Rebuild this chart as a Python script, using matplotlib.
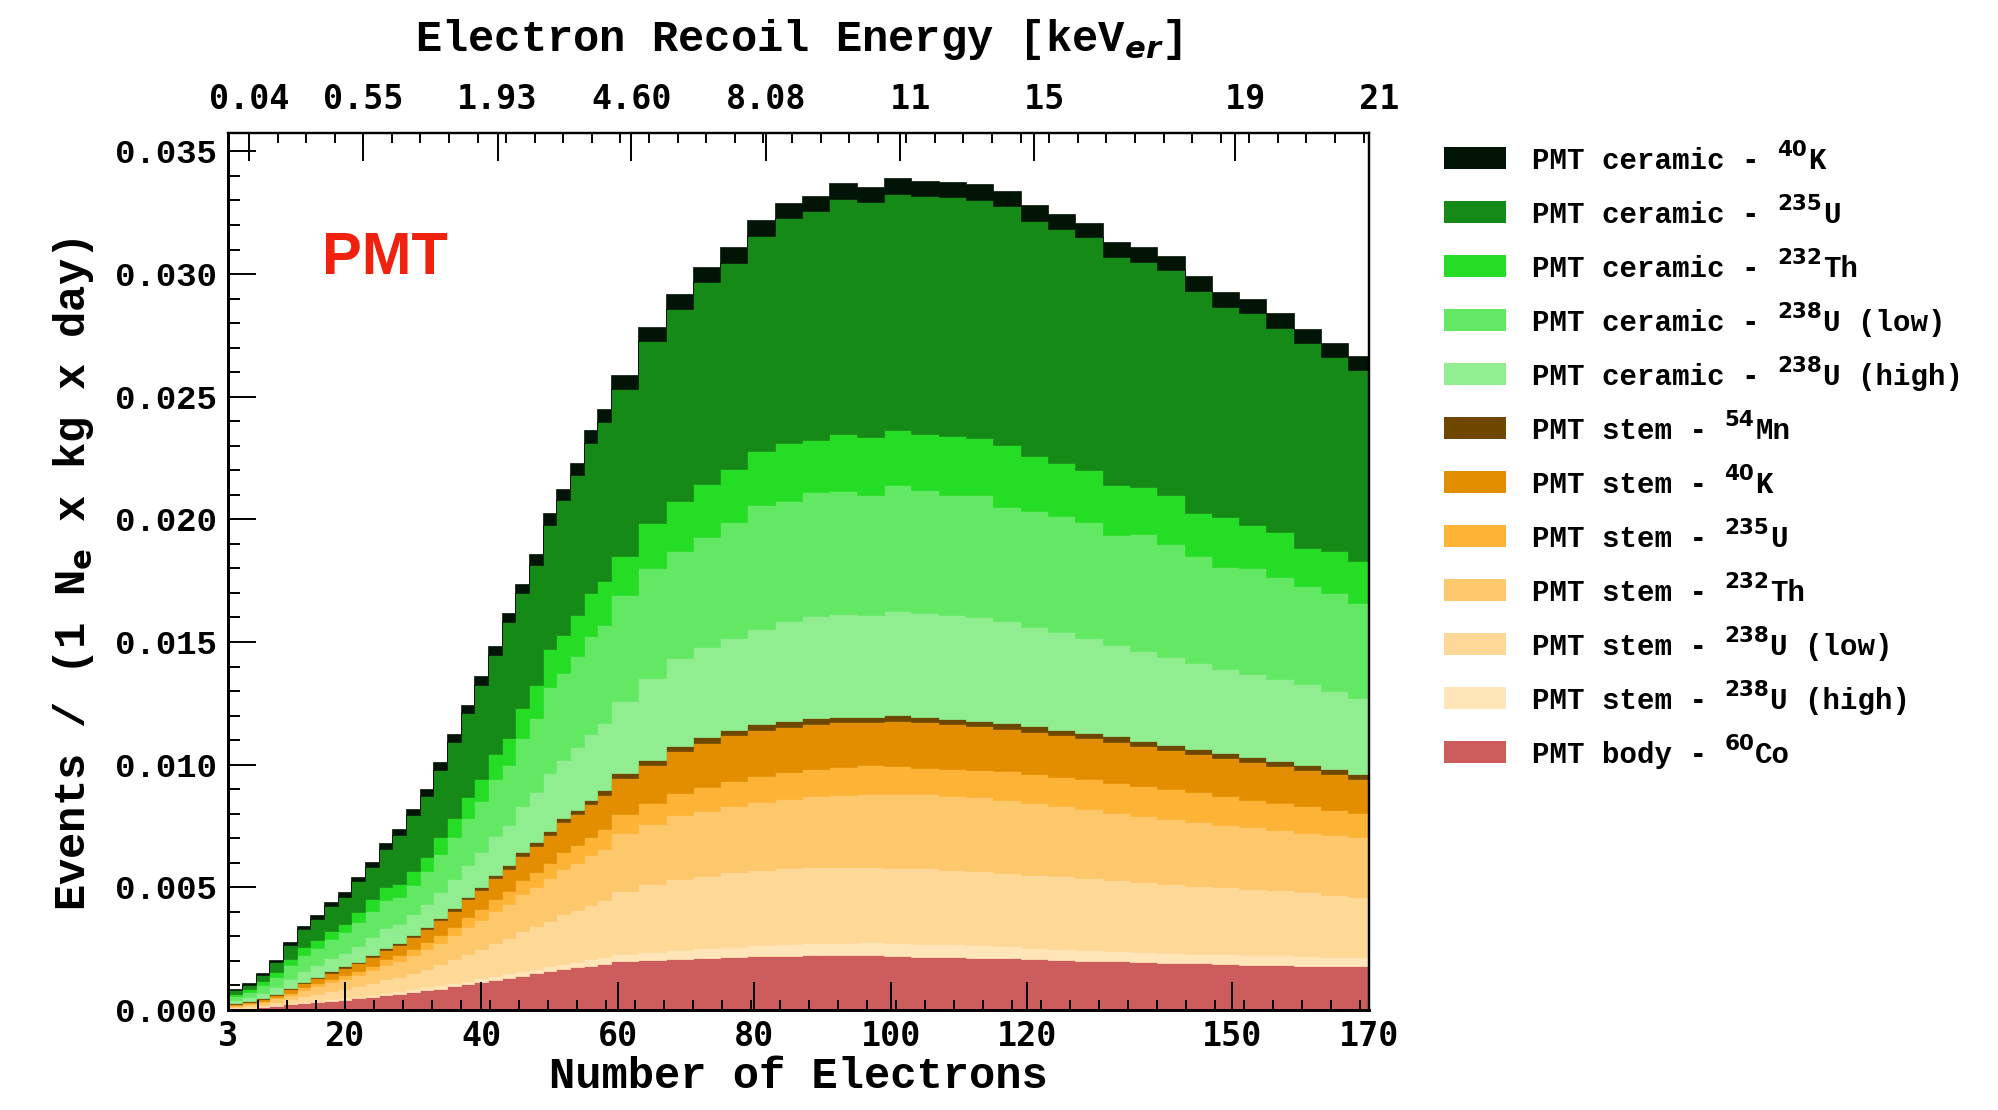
import numpy as np
import matplotlib
matplotlib.use("Agg")
import matplotlib.pyplot as plt
from matplotlib.patches import Rectangle

plt.rcParams['font.family'] = ['Liberation Mono', 'DejaVu Sans Mono']
plt.rcParams['font.weight'] = 'bold'
plt.rcParams['mathtext.fontset'] = 'custom'
plt.rcParams['mathtext.rm'] = 'Liberation Mono:bold'
plt.rcParams['mathtext.bf'] = 'DejaVu Sans:bold'
plt.rcParams['mathtext.sf'] = 'DejaVu Sans:bold'
plt.rcParams['mathtext.it'] = 'DejaVu Sans:bold:italic'

# histogram bins (number of electrons): 2 wide on the rising edge, 4 wide after
BIN_EDGES = np.concatenate([np.arange(3, 59, 2), np.arange(59, 168, 4), [170]])

# rates per bin, units of 1e-3 events / (1 Ne x kg x day), stacked bottom -> top
body_co60 = [0.06, 0.09, 0.13, 0.18, 0.23, 0.28, 0.33, 0.38, 0.42, 0.47, 0.53, 0.60, 0.67, 0.74,
             0.80, 0.87, 0.96, 1.04, 1.13, 1.22, 1.31, 1.40, 1.49, 1.58, 1.66, 1.74, 1.81, 1.88,
             1.99, 2.04, 2.08, 2.12, 2.16, 2.19, 2.22, 2.23, 2.23, 2.23, 2.21, 2.17, 2.15, 2.12,
             2.10, 2.07, 2.04, 2.01, 1.98, 1.96, 1.93, 1.90, 1.87, 1.84, 1.82, 1.80, 1.79, 1.78]
stem_u238_high = [0.01, 0.01, 0.02, 0.02, 0.03, 0.03, 0.04, 0.05, 0.06, 0.07, 0.08, 0.09, 0.10, 0.11,
                  0.12, 0.13, 0.14, 0.15, 0.16, 0.17, 0.18, 0.19, 0.20, 0.21, 0.22, 0.23, 0.25, 0.26,
                  0.30, 0.34, 0.37, 0.39, 0.41, 0.44, 0.47, 0.50, 0.52, 0.53, 0.54, 0.54, 0.54, 0.53,
                  0.50, 0.47, 0.45, 0.43, 0.41, 0.40, 0.39, 0.39, 0.40, 0.41, 0.41, 0.40, 0.39, 0.38]
stem_u238_low = [0.05, 0.06, 0.07, 0.12, 0.17, 0.26, 0.29, 0.35, 0.39, 0.43, 0.49, 0.56, 0.58, 0.67,
                 0.76, 0.87, 0.97, 1.11, 1.20, 1.35, 1.45, 1.62, 1.73, 1.85, 2.02, 2.10, 2.22, 2.33,
                 2.56, 2.74, 2.88, 2.97, 3.04, 3.07, 3.08, 3.08, 3.08, 3.06, 3.05, 3.06, 3.03, 3.00,
                 3.00, 2.98, 2.97, 2.96, 2.91, 2.84, 2.80, 2.76, 2.73, 2.70, 2.66, 2.60, 2.52, 2.46]
stem_th232 = [0.06, 0.08, 0.11, 0.15, 0.20, 0.26, 0.32, 0.36, 0.41, 0.46, 0.52, 0.60, 0.64, 0.72,
              0.80, 0.88, 0.97, 1.08, 1.17, 1.29, 1.38, 1.51, 1.61, 1.72, 1.84, 1.92, 2.02, 2.10,
              2.35, 2.48, 2.62, 2.65, 2.71, 2.77, 2.83, 2.90, 2.94, 3.00, 3.01, 3.02, 3.02, 3.02,
              2.98, 2.93, 2.85, 2.79, 2.75, 2.70, 2.68, 2.62, 2.54, 2.50, 2.44, 2.43, 2.42, 2.44]
stem_u235 = [0.02, 0.03, 0.04, 0.05, 0.08, 0.10, 0.11, 0.14, 0.16, 0.17, 0.19, 0.22, 0.24, 0.26,
             0.29, 0.32, 0.36, 0.41, 0.44, 0.48, 0.52, 0.56, 0.60, 0.64, 0.69, 0.72, 0.76, 0.79,
             0.80, 0.85, 0.90, 0.97, 1.01, 1.08, 1.10, 1.12, 1.15, 1.15, 1.14, 1.09, 1.09, 1.13,
             1.16, 1.17, 1.19, 1.21, 1.22, 1.24, 1.20, 1.20, 1.19, 1.13, 1.12, 1.09, 1.04, 0.98]
stem_k40 = [0.04, 0.05, 0.07, 0.10, 0.13, 0.18, 0.21, 0.24, 0.27, 0.30, 0.35, 0.39, 0.42, 0.48,
            0.53, 0.59, 0.65, 0.72, 0.78, 0.86, 0.92, 1.01, 1.07, 1.14, 1.22, 1.28, 1.34, 1.40,
            1.45, 1.55, 1.70, 1.80, 1.87, 1.87, 1.85, 1.84, 1.82, 1.77, 1.84, 1.84, 1.81, 1.78,
            1.73, 1.72, 1.71, 1.67, 1.66, 1.62, 1.59, 1.55, 1.53, 1.51, 1.49, 1.47, 1.45, 1.39]
stem_mn54 = [0.03, 0.03, 0.04, 0.04, 0.05, 0.05, 0.06, 0.06, 0.07, 0.07, 0.08, 0.08, 0.09, 0.09,
             0.10, 0.10, 0.11, 0.11, 0.12, 0.13, 0.14, 0.15, 0.15, 0.16, 0.17, 0.18, 0.18, 0.19,
             0.20, 0.21, 0.22, 0.22, 0.22, 0.22, 0.22, 0.22, 0.22, 0.22, 0.22, 0.22, 0.22, 0.22,
             0.22, 0.22, 0.22, 0.22, 0.22, 0.22, 0.21, 0.21, 0.21, 0.21, 0.21, 0.20, 0.20, 0.20]
ceramic_u238_high = [0.12, 0.16, 0.22, 0.28, 0.38, 0.44, 0.48, 0.53, 0.56, 0.65, 0.73, 0.79, 0.76, 0.83,
                     0.91, 1.05, 1.18, 1.30, 1.42, 1.58, 1.66, 1.88, 2.05, 2.37, 2.39, 2.54, 2.69, 2.74,
                     2.95, 3.34, 3.58, 3.68, 3.73, 3.91, 4.08, 4.16, 4.19, 4.14, 4.24, 4.26, 4.24, 4.20,
                     4.16, 4.04, 3.97, 3.86, 3.73, 3.64, 3.58, 3.50, 3.43, 3.38, 3.33, 3.29, 3.19, 3.07]
ceramic_u238_low = [0.18, 0.24, 0.33, 0.42, 0.56, 0.65, 0.70, 0.78, 0.82, 0.95, 1.08, 1.17, 1.12, 1.21,
                    1.34, 1.54, 1.73, 1.91, 2.08, 2.33, 2.44, 2.75, 3.01, 3.48, 3.52, 3.73, 3.96, 4.02,
                    4.30, 4.45, 4.35, 4.50, 4.75, 5.05, 4.90, 5.05, 5.00, 4.90, 5.15, 5.00, 4.90, 5.00,
                    4.65, 4.75, 4.75, 4.75, 4.47, 4.78, 4.62, 4.37, 4.15, 4.32, 4.17, 4.02, 4.00, 3.90]
ceramic_th232 = [0.08, 0.10, 0.15, 0.19, 0.25, 0.30, 0.31, 0.34, 0.36, 0.43, 0.48, 0.52, 0.51, 0.54,
                 0.60, 0.69, 0.77, 0.85, 0.93, 1.04, 1.10, 1.23, 1.34, 1.55, 1.57, 1.66, 1.77, 1.79,
                 1.60, 1.86, 2.05, 2.15, 2.15, 2.20, 2.35, 2.14, 2.31, 2.35, 2.24, 2.28, 2.40, 2.31,
                 2.55, 2.25, 2.15, 2.10, 2.05, 1.90, 2.00, 1.75, 2.05, 1.75, 1.85, 1.55, 1.70, 1.70]
ceramic_u235 = [0.15, 0.16, 0.24, 0.39, 0.55, 0.75, 0.86, 1.02, 1.09, 1.24, 1.29, 1.54, 2.00, 2.29,
                2.47, 2.76, 3.10, 3.44, 3.83, 4.02, 4.70, 4.68, 4.90, 5.09, 5.48, 5.70, 6.13, 6.45,
                6.82, 7.39, 7.83, 8.23, 8.42, 8.77, 9.17, 9.33, 9.61, 9.57, 9.63, 9.69, 9.72, 9.72,
                9.73, 9.58, 9.53, 9.49, 9.29, 9.19, 9.15, 9.05, 8.55, 8.66, 8.31, 8.32, 7.92, 7.78]
ceramic_k40 = [0.05, 0.07, 0.09, 0.11, 0.13, 0.14, 0.16, 0.17, 0.19, 0.20, 0.22, 0.24, 0.25, 0.27,
               0.28, 0.30, 0.31, 0.33, 0.34, 0.36, 0.38, 0.40, 0.42, 0.45, 0.47, 0.50, 0.52, 0.55,
               0.58, 0.60, 0.62, 0.62, 0.63, 0.63, 0.63, 0.63, 0.63, 0.63, 0.63, 0.63, 0.63, 0.62,
               0.62, 0.62, 0.62, 0.61, 0.61, 0.61, 0.60, 0.60, 0.60, 0.59, 0.59, 0.58, 0.58, 0.57]

# bottom axis labels, top axis (recoil energy) labels
BOTTOM_TICKS = [3, 20, 40, 60, 80, 100, 120, 150, 170]
TOP_TICKS = [6.0, 22.7, 42.4, 62.0, 81.7, 101.3, 121.0, 150.4, 170]
TOP_LABELS = ['0.04', '0.55', '1.93', '4.60', '8.08', ' 11', ' 15', ' 19', ' 21']

# (values, colour, legend label split as text / isotope mass / rest)
layers = [
    (body_co60, '#cd5c5c', ('PMT body - ', '60', 'Co')),
    (stem_u238_high, '#ffe5b7', ('PMT stem - ', '238', 'U (high)')),
    (stem_u238_low, '#fed897', ('PMT stem - ', '238', 'U (low)')),
    (stem_th232, '#fdc76b', ('PMT stem - ', '232', 'Th')),
    (stem_u235, '#fdb335', ('PMT stem - ', '235', 'U')),
    (stem_k40, '#e38d00', ('PMT stem - ', '40', 'K')),
    (stem_mn54, '#6e4700', ('PMT stem - ', '54', 'Mn')),
    (ceramic_u238_high, '#90ee90', ('PMT ceramic - ', '238', 'U (high)')),
    (ceramic_u238_low, '#63e863', ('PMT ceramic - ', '238', 'U (low)')),
    (ceramic_th232, '#25dd25', ('PMT ceramic - ', '232', 'Th')),
    (ceramic_u235, '#168a16', ('PMT ceramic - ', '235', 'U')),
    (ceramic_k40, '#021405', ('PMT ceramic - ', '40', 'K')),
]

fig = plt.figure(figsize=(19.99, 11.10), dpi=100)
ax = fig.add_axes([0.1143, 0.0901, 0.5705, 0.7901])

bottom = np.zeros(len(BIN_EDGES) - 1)
for vals, color, label in layers:
    top = bottom + np.array(vals) * 1e-3
    ax.stairs(top, BIN_EDGES, baseline=bottom, fill=True, color=color,
              edgecolor=color, linewidth=0.5)
    bottom = top

ax.set_xlim(3, 170)
ax.set_ylim(0, 0.03575)

ax.set_xticks(BOTTOM_TICKS)
ax.set_xticklabels([str(t) for t in BOTTOM_TICKS], fontfamily='DejaVu Sans Mono',
                   fontsize=24, fontweight='bold')
ax.set_xticks(np.arange(7.25, 170, 4.25), minor=True)
yt = np.arange(0, 0.0351, 0.005)
ax.set_yticks(yt)
ax.set_yticklabels(['%.3f' % v for v in yt], fontsize=24.5, fontweight='bold')
ax.set_yticks(np.arange(0, 0.0356, 0.001), minor=True)

ax.tick_params(which='major', direction='in', length=20, width=1.4)
ax.tick_params(which='minor', direction='in', length=7.5, width=1.4)
ax.tick_params(axis='y', which='minor', length=8.6)
ax.tick_params(axis='x', pad=7)
ax.tick_params(axis='y', pad=8.5)
ax.tick_params(top=False, right=False, which='both')

ax_top = ax.twiny()
ax_top.set_xlim(3, 170)
ax_top.set_xticks(TOP_TICKS)
ax_top.set_xticklabels(TOP_LABELS, fontfamily='DejaVu Sans Mono', fontsize=24,
                       fontweight='bold')
ax_top.set_xticks(np.arange(6.0 + 4.185, 170, 4.185), minor=True)
ax_top.tick_params(which='major', direction='in', length=20, width=1.4, pad=12)
ax_top.tick_params(which='minor', direction='in', length=7.5, width=1.4)

for a in (ax, ax_top):
    a.spines['left'].set_linewidth(2.0)
    a.spines['bottom'].set_linewidth(2.0)
    a.spines['top'].set_linewidth(1.6)
    a.spines['right'].set_linewidth(1.6)

fig.text(0.3995, 0.954, 'Electron Recoil Energy [keV$_{\\mathit{er}}$]',
         ha='center', va='baseline', fontsize=31.5)
fig.text(0.3995, 0.0198, 'Number of Electrons', ha='center', va='baseline', fontsize=31.5)
fig.text(0.037, 0.483, 'Events / (1 N$_{\\mathbf{e}}$ x kg x day)', rotation=90,
         ha='center', va='center', fontsize=31.5)

ax.text(16.65, 0.0300, 'PMT', color='#f0220f', fontsize=43, fontfamily='Liberation Sans',
        fontweight='bold', ha='left', va='baseline')

# legend, top entry = top of the stack
W, H = 1999.0, 1110.0
LEG_FS = 21.0
char_w = 0.6 * LEG_FS * 100 / 72.0
renderer = fig.canvas.get_renderer()
for i, (vals, color, (pre, mass, post)) in enumerate(layers[::-1]):
    yc = 158 + 54 * i
    yb = 1 - (yc + 11) / H
    fig.add_artist(Rectangle((1444 / W, 1 - (yc + 11) / H), 62 / W, 22 / H,
                             transform=fig.transFigure, facecolor=color,
                             edgecolor='none'))
    x = 1532.0
    fig.text(x / W, yb, pre, ha='left', va='baseline', fontsize=LEG_FS)
    x += len(pre) * char_w
    sup = fig.text(x / W, yb + 13 / H, mass, ha='left', va='baseline', fontsize=15.5,
                   fontfamily='DejaVu Sans', fontweight='bold')
    x += sup.get_window_extent(renderer).width + 1
    fig.text(x / W, yb, post, ha='left', va='baseline', fontsize=LEG_FS)

fig.savefig('out.png', dpi=100)
